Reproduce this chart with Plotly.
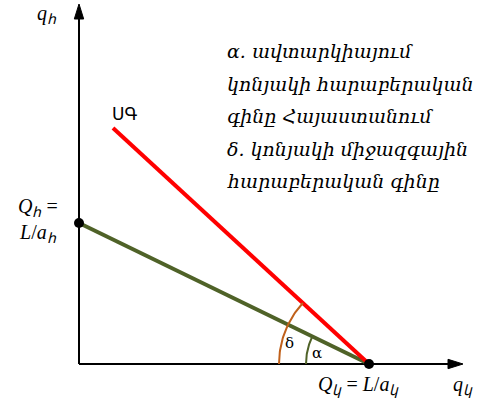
import numpy as np
import plotly.graph_objects as go

# ---- data (diagram units: 1 unit ~ 1 px, origin at the axes corner) ----
Q_k = 290            # x-intercept, Q_կ = L/a_կ
Q_h = 141            # y-intercept, Q_հ = L/a_հ
autarky_x = [0, Q_k]
autarky_y = [Q_h, 0]
world_x = [34, Q_k]  # ՍԳ line
world_y = [236, 0]
axis_x_end = 384
axis_y_end = 360

text_lines = ["α. ավտարկիայում",
              "կոնյակի հարաբերական",
              "գինը Հայաստանում",
              "δ. կոնյակի միջազգային",
              "հարաբերական գինը"]

OLIVE = "#4F6228"
RED = "#FF0000"
BROWN = "#C0601A"
MATH = "Liberation Serif"

fig = go.Figure()

# axes
fig.add_trace(go.Scatter(x=[0, axis_x_end - 12], y=[0, 0], mode="lines",
                         line=dict(color="black", width=2), hoverinfo="skip"))
fig.add_trace(go.Scatter(x=[0, 0], y=[0, axis_y_end - 12], mode="lines",
                         line=dict(color="black", width=2), hoverinfo="skip"))
# arrowheads
L, W = 15, 4.7
fig.add_trace(go.Scatter(x=[axis_x_end, axis_x_end - L, axis_x_end - L, axis_x_end],
                         y=[0, W, -W, 0], fill="toself", fillcolor="black",
                         mode="lines", line=dict(color="black", width=1), hoverinfo="skip"))
fig.add_trace(go.Scatter(x=[0, W, -W, 0],
                         y=[axis_y_end, axis_y_end - L, axis_y_end - L, axis_y_end],
                         fill="toself", fillcolor="black",
                         mode="lines", line=dict(color="black", width=1), hoverinfo="skip"))

# lines
fig.add_trace(go.Scatter(x=autarky_x, y=autarky_y, mode="lines",
                         line=dict(color=OLIVE, width=4), hoverinfo="skip"))
fig.add_trace(go.Scatter(x=world_x, y=world_y, mode="lines",
                         line=dict(color=RED, width=4), hoverinfo="skip"))

# angle arcs
cx = Q_k
ang_a = np.arctan2(autarky_y[0] - autarky_y[1], autarky_x[1] - autarky_x[0])
ang_d = np.arctan2(world_y[0] - world_y[1], world_x[1] - world_x[0])
for r, ang, col in [(90, ang_d, BROWN), (63, ang_a, OLIVE)]:
    t = np.linspace(0, ang, 40)
    fig.add_trace(go.Scatter(x=cx - r * np.cos(t), y=r * np.sin(t), mode="lines",
                             line=dict(color=col, width=2), hoverinfo="skip"))

# points
fig.add_trace(go.Scatter(x=[0, Q_k], y=[Q_h, 0], mode="markers",
                         marker=dict(color="black", size=10), hoverinfo="skip"))

def ann(x, y, text, size=18, family="DejaVu Serif", xanchor="center", align="center", color="black"):
    fig.add_annotation(x=x, y=y, text=text, showarrow=False, xanchor=xanchor,
                       align=align, font=dict(family=family, size=size, color=color))

ann(-32, 350, "<i>q</i><sub><i>հ</i></sub>", size=20, family=MATH)
ann(-41, 144, "<i>Q</i><sub><i>հ</i></sub> =<br><i>L</i>/<i>a</i><sub><i>հ</i></sub>", size=20, family=MATH)
ann(279, -21, "<i>Q</i><sub><i>կ</i></sub> = <i>L</i>/<i>a</i><sub><i>կ</i></sub>", size=20, family=MATH)
ann(384, -21, "<i>q</i><sub><i>կ</i></sub>", size=20, family=MATH)
ann(45, 250, "ՍԳ", size=17, family="DejaVu Sans")
ann(210, 21, "δ", size=15)
ann(238, 11, "α", size=15)
for i, line in enumerate(text_lines):
    ann(146, 313 - 32.5 * i, "<i>" + line + "</i>", size=19, xanchor="left", align="left")

fig.update_layout(width=481, height=404, margin=dict(l=0, r=0, t=0, b=0),
                  paper_bgcolor="white", plot_bgcolor="white", showlegend=False,
                  xaxis=dict(range=[-79, 402], visible=False, fixedrange=True),
                  yaxis=dict(range=[-40, 364], visible=False, fixedrange=True))
fig.write_html("out.html", config={"displayModeBar": False},
               post_script="document.body.style.margin='0';")
